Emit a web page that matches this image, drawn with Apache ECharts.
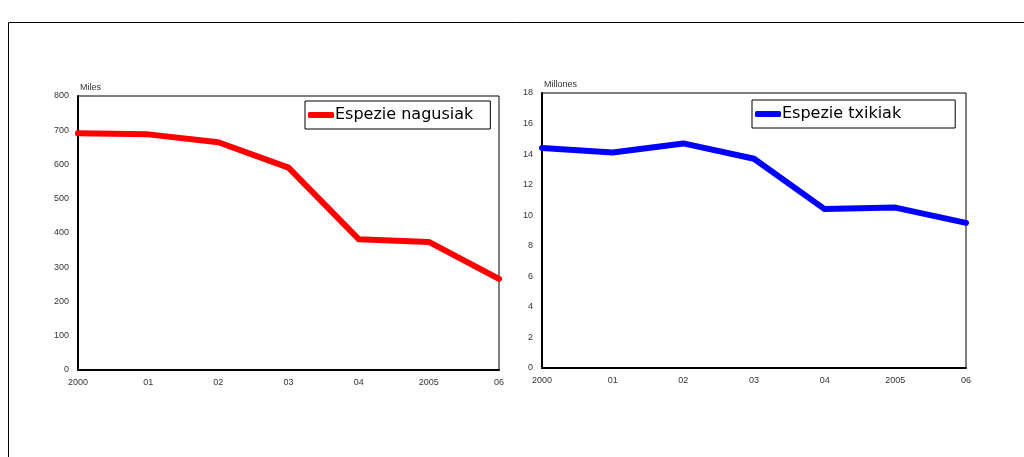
<!DOCTYPE html>
<html>
<head>
<meta charset="utf-8">
<script src="https://cdn.jsdelivr.net/npm/echarts@6/dist/echarts.min.js"></script>
<style>
  html, body { margin: 0; padding: 0; background: #fff; }
  #chart { width: 1024px; height: 457px; }
</style>
</head>
<body>
<div id="chart"></div>
<script>
// Years on both panels
const years = ['2000', '01', '02', '03', '04', '2005', '06'];

// Large species catch (thousands)
const largeSpecies = [691, 688, 665, 591, 382, 374, 266];
// Small species catch (millions)
const smallSpecies = [14.4, 14.1, 14.7, 13.7, 10.4, 10.5, 9.5];

const largeName = 'Espezie nagusiak';
const smallName = 'Espezie txikiak';
const largeUnit = 'Miles';
const smallUnit = 'Millones';

const tickFont = { fontFamily: 'Liberation Sans', fontSize: 9, color: '#333' };

function xAxisFor(gridIndex) {
  return {
    type: 'category', gridIndex, data: years, boundaryGap: false,
    axisLine: { lineStyle: { color: '#000', width: 2 } },
    axisTick: { show: false },
    axisLabel: Object.assign({ margin: 8, interval: 0 }, tickFont),
    splitLine: { show: false }
  };
}

function yAxisFor(gridIndex, max, interval, unit) {
  return {
    type: 'value', gridIndex, min: 0, max, interval,
    name: unit, nameLocation: 'end', nameGap: 4,
    nameTextStyle: { fontFamily: 'Liberation Sans', fontSize: 9, color: '#333', align: 'left', verticalAlign: 'bottom', padding: [0, 0, 0, 2] },
    axisLine: { show: true, lineStyle: { color: '#000', width: 2 } },
    axisTick: { show: false },
    axisLabel: Object.assign({ margin: 9 }, tickFont),
    splitLine: { show: false }
  };
}

const legendText = { fontFamily: 'DejaVu Sans', fontSize: 16, color: '#000' };

const option = {
  animation: false,
  backgroundColor: '#fff',
  graphic: [{
    type: 'rect', z: 0,
    shape: { x: 8.5, y: 22.5, width: 1100, height: 500 },
    style: { fill: 'none', stroke: '#000', lineWidth: 1 }
  }],
  grid: [
    { left: 78, top: 96, width: 421, height: 274, show: true, borderColor: '#000', borderWidth: 1, backgroundColor: 'transparent' },
    { left: 542, top: 93, width: 424, height: 275, show: true, borderColor: '#000', borderWidth: 1, backgroundColor: 'transparent' }
  ],
  xAxis: [xAxisFor(0), xAxisFor(1)],
  yAxis: [yAxisFor(0, 800, 100, largeUnit), yAxisFor(1, 18, 2, smallUnit)],
  legend: [
    {
      data: [largeName], left: 305, top: 101,
      padding: [6, 17, 6, 3], itemWidth: 26, itemHeight: 6, itemGap: 0,
      icon: 'roundRect', borderColor: '#000', borderWidth: 1, backgroundColor: '#fff',
      textStyle: Object.assign({ padding: [0, 0, 0, -4] }, legendText)
    },
    {
      data: [smallName], left: 752, top: 100,
      padding: [6, 54, 6, 3], itemWidth: 26, itemHeight: 6, itemGap: 0,
      icon: 'roundRect', borderColor: '#000', borderWidth: 1, backgroundColor: '#fff',
      textStyle: Object.assign({ padding: [0, 0, 0, -4] }, legendText)
    }
  ],
  series: [
    {
      name: largeName, type: 'line', xAxisIndex: 0, yAxisIndex: 0,
      data: largeSpecies, symbol: 'none', color: '#ff0000',
      lineStyle: { width: 6, color: '#ff0000', cap: 'round', join: 'round' }
    },
    {
      name: smallName, type: 'line', xAxisIndex: 1, yAxisIndex: 1,
      data: smallSpecies, symbol: 'none', color: '#0000ff',
      lineStyle: { width: 6, color: '#0000ff', cap: 'round', join: 'round' }
    }
  ]
};

echarts.init(document.getElementById('chart'), null, { renderer: 'canvas' }).setOption(option);
</script>
</body>
</html>
